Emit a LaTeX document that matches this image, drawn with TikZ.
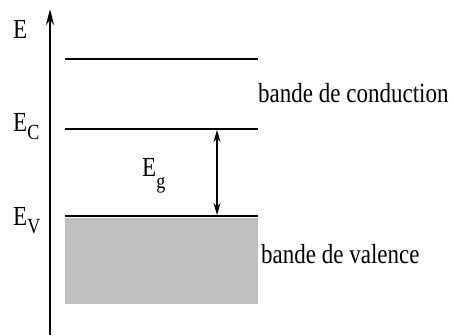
\documentclass[tikz,border=0pt]{standalone}
\usepackage{fontspec}
\usepackage{graphicx}
\setmainfont{Liberation Serif}
\usetikzlibrary{arrows.meta}
\newcommand{\tallt}[1]{\scalebox{1}[1.2]{\fontsize{23}{25}\selectfont #1}}
\newcommand{\subt}[2]{\raisebox{-#1pt}{\fontsize{18}{20}\selectfont #2}}
\begin{document}
\begin{tikzpicture}[x=1pt,y=-1pt,
  level/.style={line width=2pt,black},
  lbl/.style={inner sep=0pt,anchor=base west}]
\useasboundingbox (0,0) rectangle (454,335);
% axis
\coordinate (ax0) at (50,335);
\coordinate (ax1) at (50,9);
\draw[line width=2pt,-{Stealth[length=16pt,width=8pt]}] (ax0) -- (ax1);
% valence band
\fill[gray!50] (65,218) rectangle (258,304);
% levels
\coordinate (t0) at (65,59); \coordinate (t1) at (258,59);
\coordinate (c0) at (65,129); \coordinate (c1) at (258,129);
\coordinate (v0) at (65,216); \coordinate (v1) at (258,216);
\draw[level] (t0) -- (t1);
\draw[level] (c0) -- (c1);
\draw[level] (v0) -- (v1);
% gap arrow
\coordinate (g0) at (217,130);
\coordinate (g1) at (217,215);
\draw[line width=1.4pt,{Stealth[length=12pt,width=7pt]}-{Stealth[length=12pt,width=7pt]}] (g0) -- (g1);
% labels
\node[lbl] (E) at (13,38) {\tallt{E}};
\node[lbl] (Ec) at (13,131) {\tallt{E\subt{7}{C}}};
\node[lbl] (Ev) at (13,225) {\tallt{E\subt{7}{V}}};
\node[lbl] (Eg) at (142,176) {\tallt{E\subt{10}{g}}};
\node[lbl] (bc) at (258,102) {\tallt{bande de conduction}};
\node[lbl] (bv) at (261,263) {\tallt{bande de valence}};
\end{tikzpicture}
\end{document}
